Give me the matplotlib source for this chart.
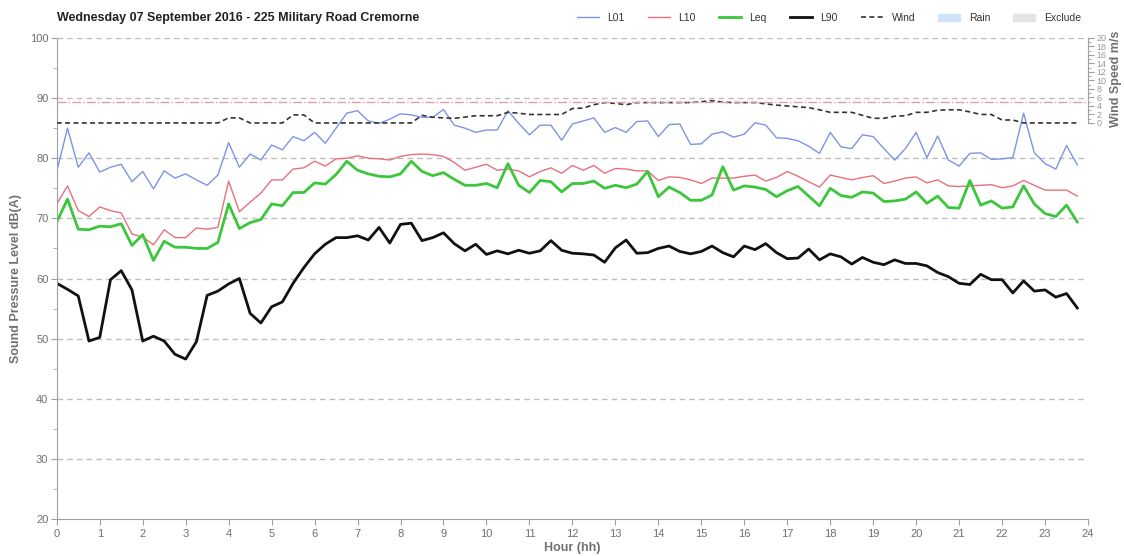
import numpy as np
import matplotlib.pyplot as plt
from matplotlib.lines import Line2D
from matplotlib.patches import Patch

plt.rcParams['font.family'] = ['Liberation Sans', 'DejaVu Sans']

title = 'Wednesday 07 September 2016 - 225 Military Road Cremorne'

# 15 minute intervals, 0:00 to 23:45
hours = np.arange(96) * 0.25

l01 = [77.8, 85.0, 78.5, 80.9, 77.7, 78.5, 79.0, 76.1, 77.8, 74.9, 77.9, 76.7,
       77.4, 76.4, 75.5, 77.2, 82.6, 78.5, 80.7, 79.7, 82.2, 81.4, 83.6, 82.9,
       84.3, 82.5, 85.0, 87.5, 87.9, 86.2, 85.8, 86.5, 87.4, 87.2, 86.8, 86.8,
       88.1, 85.5, 85.0, 84.3, 84.7, 84.7, 87.9, 85.8, 83.9, 85.5, 85.5, 83.0,
       85.7, 86.2, 86.7, 84.3, 85.1, 84.3, 86.1, 86.2, 83.6, 85.6, 85.7, 82.3,
       82.4, 84.0, 84.4, 83.5, 84.0, 85.9, 85.5, 83.4, 83.3, 82.9, 82.0, 80.8,
       84.3, 81.9, 81.6, 83.9, 83.6, 81.6, 79.7, 81.6, 84.3, 80.1, 83.7, 79.7,
       78.7, 80.8, 80.9, 79.8, 79.9, 80.1, 87.5, 80.9, 79.1, 78.2, 82.1, 78.9]

l10 = [72.4, 75.4, 71.3, 70.3, 71.9, 71.3, 70.9, 67.4, 66.9, 65.6, 68.1, 66.8,
       66.8, 68.4, 68.2, 68.5, 76.2, 71.1, 72.7, 74.2, 76.4, 76.4, 78.2, 78.4,
       79.5, 78.7, 79.9, 80.0, 80.4, 80.0, 79.9, 79.7, 80.3, 80.6, 80.7, 80.6,
       80.3, 79.3, 78.0, 78.5, 79.0, 78.0, 78.2, 77.9, 76.9, 77.8, 78.4, 77.5,
       78.8, 78.0, 78.8, 77.5, 78.3, 78.2, 77.9, 77.9, 76.3, 76.9, 76.8, 76.4,
       75.8, 76.7, 76.7, 76.7, 77.0, 77.2, 76.2, 76.8, 77.8, 77.0, 76.1, 75.2,
       77.2, 76.8, 76.4, 76.8, 77.1, 75.8, 76.2, 76.7, 76.9, 75.9, 76.4, 75.4,
       75.3, 75.4, 75.5, 75.6, 75.1, 75.4, 76.3, 75.5, 74.7, 74.7, 74.7, 73.7]

leq = [69.4, 73.2, 68.2, 68.1, 68.7, 68.6, 69.1, 65.5, 67.3, 63.0, 66.2, 65.2,
       65.2, 65.0, 65.0, 66.0, 72.4, 68.3, 69.3, 69.8, 72.4, 72.1, 74.3, 74.3,
       75.9, 75.7, 77.3, 79.5, 78.0, 77.4, 77.0, 76.9, 77.4, 79.5, 77.8, 77.1,
       77.6, 76.5, 75.5, 75.5, 75.8, 75.1, 79.1, 75.5, 74.3, 76.3, 76.1, 74.4,
       75.8, 75.8, 76.2, 75.0, 75.5, 75.1, 75.7, 77.8, 73.6, 75.2, 74.3, 73.0,
       73.0, 73.9, 78.6, 74.7, 75.4, 75.2, 74.8, 73.6, 74.6, 75.3, 73.7, 72.1,
       75.0, 73.8, 73.5, 74.4, 74.2, 72.8, 72.9, 73.2, 74.4, 72.5, 73.7, 71.8,
       71.7, 76.3, 72.2, 72.9, 71.7, 71.9, 75.4, 72.4, 70.8, 70.3, 72.2, 69.4]

l90 = [59.2, 58.2, 57.1, 49.6, 50.2, 59.8, 61.3, 58.1, 49.6, 50.4, 49.6, 47.4,
       46.6, 49.5, 57.2, 57.9, 59.1, 60.0, 54.2, 52.6, 55.3, 56.1, 59.2, 61.8,
       64.1, 65.7, 66.8, 66.8, 67.1, 66.4, 68.5, 65.9, 69.0, 69.2, 66.3, 66.8,
       67.6, 65.8, 64.6, 65.7, 64.0, 64.6, 64.1, 64.7, 64.2, 64.6, 66.3, 64.7,
       64.2, 64.1, 63.9, 62.7, 65.1, 66.4, 64.2, 64.3, 65.0, 65.4, 64.5, 64.1,
       64.5, 65.4, 64.3, 63.6, 65.4, 64.8, 65.8, 64.3, 63.3, 63.4, 64.9, 63.1,
       64.1, 63.6, 62.4, 63.5, 62.7, 62.3, 63.1, 62.5, 62.5, 62.1, 61.0, 60.3,
       59.2, 59.0, 60.7, 59.8, 59.8, 57.6, 59.6, 57.9, 58.1, 56.9, 57.5, 55.1]

wind = [0, 0, 0, 0, 0, 0, 0, 0, 0, 0, 0, 0,
        0, 0, 0, 0, 1.2, 1.2, 0, 0, 0, 0, 1.9, 1.9,
        0, 0, 0, 0, 0, 0, 0, 0, 0, 0, 1.8, 1.35,
        1.2, 1.1, 1.4, 1.7, 1.7, 1.7, 2.5, 2.3, 2.0, 2.0, 2.0, 2.0,
        3.4, 3.5, 4.3, 4.8, 4.6, 4.3, 4.8, 4.8, 4.8, 4.8, 4.8, 4.8,
        5.0, 5.25, 4.9, 4.8, 4.8, 4.8, 4.5, 4.2, 4.0, 3.8, 3.6, 3.1,
        2.5, 2.5, 2.5, 1.8, 1.1, 1.1, 1.6, 1.7, 2.5, 2.5, 3.0, 3.1,
        3.1, 2.6, 2.0, 2.0, 0.7, 0.7, 0, 0, 0, 0, 0, 0]

wind_limit = 5
grey = '#707070'

fig = plt.figure(figsize=(11.24, 5.56), dpi=100)
ax = fig.add_axes([0.0505, 0.0665, 0.9175, 0.8652])

ax.plot(hours, l01, color='#7e93e6', lw=1.0)
ax.plot(hours, l10, color='#e8707c', lw=1.0)
ax.plot(hours, leq, color='#3cc63c', lw=2.0)
ax.plot(hours, l90, color='#111111', lw=2.0)

ax.set_xlim(0, 24)
ax.set_ylim(20, 100)
ax.set_xticks(range(25))
ax.set_yticks(range(20, 101, 10))
ax.set_yticks(range(20, 101, 5), minor=True)
for v in range(30, 101, 10):
    ax.axhline(v, color='#bdbdbd', lw=1, ls=(0, (4, 3)), zorder=0)

for s in ['top', 'right']:
    ax.spines[s].set_visible(False)
ax.spines['left'].set_color('#a0a0a0')
ax.spines['bottom'].set_color('#a0a0a0')
ax.tick_params(colors='#a0a0a0', labelcolor=grey, labelsize=8, length=4, pad=2)
ax.tick_params(axis='x', pad=3)
ax.tick_params(which='minor', colors='#a0a0a0', length=3)
ax.set_xlabel('Hour (hh)', color=grey, fontsize=9, fontweight='bold', labelpad=2)
ax.set_ylabel('Sound Pressure Level dB(A)', color=grey, fontsize=9,
              fontweight='bold', labelpad=6)

# wind speed sits on its own scale in the top band of the chart
ax2 = ax.twinx()
lo = -0.8233 / (1 - 0.8233) * 20
ax2.set_ylim(lo, 20)
ax2.plot(hours, wind, color='#333333', lw=1.2, ls=(0, (3, 2)))
ax2.axhline(wind_limit, color='#e89aa4', lw=1, ls='-.')
ax2.set_yticks(range(0, 21, 2))
ax2.set_yticks(range(0, 21, 1), minor=True)
for s in ['top', 'left', 'bottom']:
    ax2.spines[s].set_visible(False)
ax2.spines['right'].set_bounds(0, 20)
ax2.spines['right'].set_color('#a0a0a0')
ax2.tick_params(colors='#a0a0a0', labelcolor='#999999', labelsize=6.5, length=4, pad=2)
ax2.tick_params(which='minor', colors='#a0a0a0', length=2)
ax2.set_ylabel('Wind Speed m/s', color=grey, fontsize=9, fontweight='bold')
ax2.yaxis.set_label_coords(1.021, 0.915)

fig.text(0.051, 0.962, title, fontsize=9, fontweight='bold', color='#222222')

handles = [Line2D([], [], color='#7e93e6', lw=1.0),
           Line2D([], [], color='#e8707c', lw=1.0),
           Line2D([], [], color='#3cc63c', lw=2.0),
           Line2D([], [], color='#111111', lw=2.0),
           Line2D([], [], color='#333333', lw=1.2, ls=(0, (3, 2))),
           Patch(color='#cfe4fb'),
           Patch(color='#e4e4e4')]
names = ['L01', 'L10', 'Leq', 'L90', 'Wind', 'Rain', 'Exclude']
fig.legend(handles, names, loc='center right', bbox_to_anchor=(0.970, 0.968),
           ncol=7, frameon=False, fontsize=7.5, handlelength=2.1,
           columnspacing=2.2, handletextpad=0.85, labelcolor='#333333')

fig.savefig('out.png', dpi=100)
